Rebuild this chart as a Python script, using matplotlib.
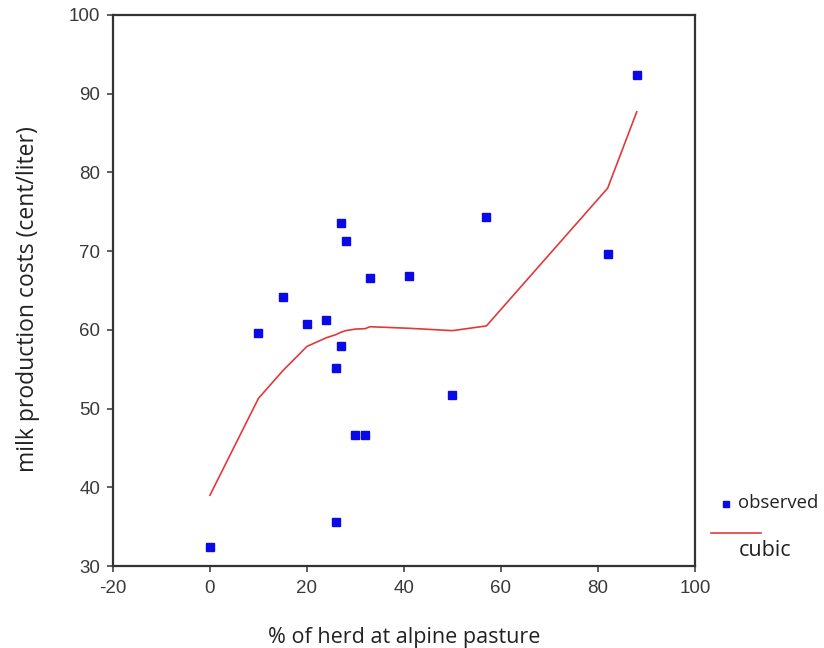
import matplotlib.pyplot as plt
from matplotlib.lines import Line2D

plt.rcParams['font.family'] = ['Liberation Sans', 'DejaVu Sans']
plt.rcParams['axes.unicode_minus'] = False

# observed farms
herd_pct = [0, 10, 15, 20, 24, 26, 26, 27, 27, 28, 30, 32, 33, 41, 50, 57, 82, 88]
milk_cost = [32.4, 59.6, 64.2, 60.8, 61.3, 55.2, 35.6, 73.6, 58.0, 71.3, 46.6, 46.6, 66.6, 66.8, 51.7, 74.3, 69.6, 92.4]

# cubic fit, read at each observed x
fit_x = [0, 10, 15, 20, 24, 26, 27, 28, 30, 32, 33, 41, 50, 57, 82, 88]
fit_y = [39.0, 51.3, 54.8, 57.9, 59.0, 59.4, 59.7, 59.9, 60.1, 60.15, 60.4, 60.2, 59.9, 60.5, 78.0, 87.7]

x_ticks = [-20, 0, 20, 40, 60, 80, 100]
y_ticks = [30, 40, 50, 60, 70, 80, 90, 100]

fig = plt.figure(figsize=(8.24, 6.48), dpi=100)
ax = fig.add_axes([0.1371, 0.1265, 0.7063, 0.8504])

ax.plot(fit_x, fit_y, color='#e0393b', linewidth=1.2, zorder=2)
ax.plot(herd_pct, milk_cost, linestyle='none', marker='s', markersize=5.5,
        color='#0a0ae6', zorder=3)

ax.set_xlim(-20, 100)
ax.set_ylim(30, 100)
ax.set_xticks(x_ticks)
ax.set_yticks(y_ticks)
for s in ax.spines.values():
    s.set_color('#333333')
    s.set_linewidth(1.6)
ax.tick_params(direction='out', length=4, width=1.2, color='#444444',
               labelcolor='#3a3a3a', labelsize=13.5)
ax.tick_params(axis='x', pad=6)
ax.tick_params(axis='y', pad=5)

ax.set_xlabel('% of herd at alpine pasture', fontsize=15.5, family='Open Sans',
              color='#222222', labelpad=22)
ax.set_ylabel('milk production costs (cent/liter)', fontsize=16.5, family='Open Sans',
              color='#222222')
ax.yaxis.set_label_coords(-0.126, 0.485)

# legend, drawn by hand outside the axes
fig.add_artist(Line2D([726 / 824], [1 - 504 / 648], marker='s', markersize=4.5,
                      color='#0a0ae6', linestyle='none'))
fig.text(738 / 824, 1 - 503 / 648, 'observed', fontsize=13.3, family='Open Sans',
         color='#222222', va='center', ha='left')
fig.add_artist(Line2D([711 / 824, 761 / 824], [1 - 533 / 648, 1 - 533 / 648],
                      color='#e0393b', linewidth=1.2))
fig.text(739 / 824, 1 - 551 / 648, 'cubic', fontsize=15.5, family='Open Sans',
         color='#222222', va='center', ha='left')

fig.savefig('out.png', dpi=100)
